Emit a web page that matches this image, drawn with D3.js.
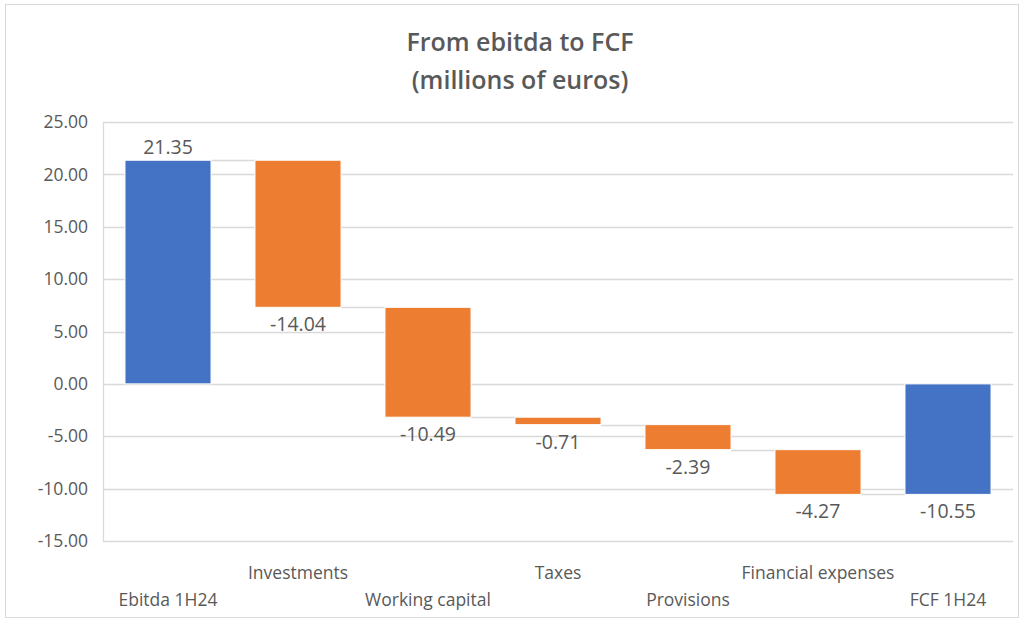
<!DOCTYPE html>
<html>
<head>
<meta charset="utf-8">
<script src="https://cdn.jsdelivr.net/npm/d3@7"></script>
<style>
  body { margin: 0; background: #fff; }
  text { font-family: "Open Sans", "Noto Sans", sans-serif; fill: #595959; }
</style>
</head>
<body>
<svg id="chart" width="1021" height="623"></svg>
<script>
const categories = ["Ebitda 1H24", "Investments", "Working capital", "Taxes", "Provisions", "Financial expenses", "FCF 1H24"];
const values = [21.35, -14.04, -10.49, -0.71, -2.39, -4.27, -10.55];
const isTotal = [true, false, false, false, false, false, true];
const yTicks = [-15, -10, -5, 0, 5, 10, 15, 20, 25];

const COLOR_TOTAL = "#4472C4";
const COLOR_STEP = "#ED7D31";
const GRID = "#D9D9D9";

const svg = d3.select("#chart");
const margin = { left: 103, right: 8, top: 122, bottom: 82 };
const width = 1021, height = 623;

// plain hyphen minus like the source chart
const fmt = v => d3.format(".2f")(v).replace("\u2212", "-");

// outer chart border
svg.append("rect")
    .attr("x", 5.5).attr("y", 4.5)
    .attr("width", 1013).attr("height", 613)
    .attr("fill", "none").attr("stroke", "#D9D9D9");

// title
svg.append("text")
    .attr("x", 520).attr("y", 51)
    .attr("text-anchor", "middle")
    .style("font-size", "25px").style("font-weight", "600")
    .text("From ebitda to FCF");
svg.append("text")
    .attr("x", 520).attr("y", 89)
    .attr("text-anchor", "middle")
    .style("font-size", "25px").style("font-weight", "600")
    .text("(millions of euros)");

// running totals
let run = 0;
const bars = categories.map((c, i) => {
    let start, end;
    if (isTotal[i]) {
        start = 0; end = values[i]; run = values[i];
    } else {
        start = run; end = run + values[i]; run = end;
    }
    return { cat: c, value: values[i], start, end, total: isTotal[i], index: i };
});

const x = d3.scaleBand()
    .domain(categories)
    .range([margin.left, width - margin.right])
    .paddingInner(0.338)
    .paddingOuter(0.169);

const y = d3.scaleLinear()
    .domain([-15, 25])
    .range([541, 122]);

// gridlines
svg.append("g")
    .selectAll("line")
    .data(yTicks)
    .enter().append("line")
    .attr("x1", margin.left).attr("x2", width - margin.right)
    .attr("y1", d => Math.round(y(d)) + 0.5)
    .attr("y2", d => Math.round(y(d)) + 0.5)
    .attr("stroke", GRID).attr("stroke-width", 1.3);

// vertical axis line
svg.append("line")
    .attr("x1", margin.left + 0.5).attr("x2", margin.left + 0.5)
    .attr("y1", y(25)).attr("y2", y(-15))
    .attr("stroke", GRID).attr("stroke-width", 1.3);

// y tick labels
svg.append("g")
    .selectAll("text")
    .data(yTicks)
    .enter().append("text")
    .attr("x", 88)
    .attr("y", d => y(d))
    .attr("dy", "0.35em")
    .attr("text-anchor", "end")
    .style("font-size", "17.5px")
    .text(fmt);

// connectors
svg.append("g")
    .selectAll("line")
    .data(bars.slice(0, -1))
    .enter().append("line")
    .attr("x1", d => x(d.cat) + x.bandwidth())
    .attr("x2", d => x(categories[d.index + 1]))
    .attr("y1", d => Math.round(y(d.end)) + 0.5)
    .attr("y2", d => Math.round(y(d.end)) + 0.5)
    .attr("stroke", GRID).attr("stroke-width", 1.3);

// bars
svg.append("g")
    .selectAll("rect")
    .data(bars)
    .enter().append("rect")
    .attr("x", d => x(d.cat))
    .attr("y", d => y(Math.max(d.start, d.end)))
    .attr("width", x.bandwidth())
    .attr("height", d => Math.abs(y(d.start) - y(d.end)))
    .attr("fill", d => d.total ? COLOR_TOTAL : COLOR_STEP)
    .attr("stroke", "#fff").attr("stroke-width", 1);

// data labels
svg.append("g")
    .selectAll("text")
    .data(bars)
    .enter().append("text")
    .attr("x", d => x(d.cat) + x.bandwidth() / 2)
    .attr("y", d => d.value >= 0 ? y(d.end) - 6 : y(Math.min(d.start, d.end)) + 24)
    .attr("text-anchor", "middle")
    .style("font-size", "19.5px")
    .text(d => fmt(d.value));

// category labels (staggered)
svg.append("g")
    .selectAll("text")
    .data(bars)
    .enter().append("text")
    .attr("x", d => x(d.cat) + x.bandwidth() / 2)
    .attr("y", d => d.index % 2 === 0 ? 606 : 579)
    .attr("text-anchor", "middle")
    .style("font-size", "17.5px")
    .text(d => d.cat);
</script>
</body>
</html>
